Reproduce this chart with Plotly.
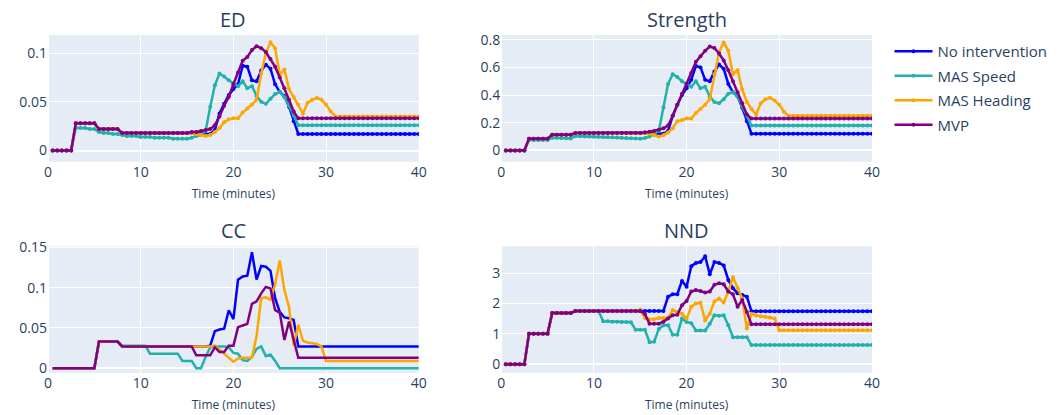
import plotly.graph_objects as go
from plotly.subplots import make_subplots

time_min = [
    0.5, 1.0, 1.5, 2.0, 2.5, 3.0, 3.5, 4.0, 4.5, 5.0,
    5.5, 6.0, 6.5, 7.0, 7.5, 8.0, 8.5, 9.0, 9.5, 10.0,
    10.5, 11.0, 11.5, 12.0, 12.5, 13.0, 13.5, 14.0, 14.5, 15.0,
    15.5, 16.0, 16.5, 17.0, 17.5, 18.0, 18.5, 19.0, 19.5, 20.0,
    20.5, 21.0, 21.5, 22.0, 22.5, 23.0, 23.5, 24.0, 24.5, 25.0,
    25.5, 26.0, 26.5, 27.0, 27.5, 28.0, 28.5, 29.0, 29.5, 30.0,
    30.5, 31.0, 31.5, 32.0, 32.5, 33.0, 33.5, 34.0, 34.5, 35.0,
    35.5, 36.0, 36.5, 37.0, 37.5, 38.0, 38.5, 39.0, 39.5, 40.0,
]

series_names = ["No intervention", "MAS Speed", "MAS Heading", "MVP"]
series_colors = ["blue", "lightseagreen", "orange", "purple"]
panel_titles = ["ED", "Strength", "CC", "NND"]

# ---------------- ED ----------------
ed_none = [
    0, 0, 0, 0, 0, 0.028, 0.028, 0.028, 0.028, 0.028,
    0.022, 0.022, 0.022, 0.022, 0.022, 0.018, 0.018, 0.018, 0.018, 0.018,
    0.018, 0.018, 0.018, 0.018, 0.018, 0.018, 0.018, 0.018, 0.018, 0.018,
    0.018, 0.018, 0.017, 0.017, 0.017, 0.021, 0.038, 0.048, 0.057, 0.063,
    0.068, 0.087, 0.086, 0.072, 0.071, 0.082, 0.088, 0.084, 0.068, 0.060,
    0.056, 0.045, 0.030, 0.017, 0.017, 0.017, 0.017, 0.017, 0.017, 0.017,
    0.017, 0.017, 0.017, 0.017, 0.017, 0.017, 0.017, 0.017, 0.017, 0.017,
    0.017, 0.017, 0.017, 0.017, 0.017, 0.017, 0.017, 0.017, 0.017, 0.017,
]
ed_speed = [
    0, 0, 0, 0, 0, 0.023, 0.023, 0.023, 0.022, 0.022,
    0.019, 0.018, 0.018, 0.017, 0.017, 0.016, 0.015, 0.015, 0.015, 0.014,
    0.014, 0.014, 0.013, 0.013, 0.013, 0.013, 0.012, 0.012, 0.012, 0.012,
    0.013, 0.015, 0.016, 0.020, 0.045, 0.067, 0.079, 0.076, 0.072, 0.069,
    0.066, 0.071, 0.064, 0.066, 0.056, 0.050, 0.048, 0.053, 0.058, 0.060,
    0.055, 0.046, 0.036, 0.026, 0.026, 0.026, 0.026, 0.026, 0.026, 0.026,
    0.026, 0.026, 0.026, 0.026, 0.026, 0.026, 0.026, 0.026, 0.026, 0.026,
    0.026, 0.026, 0.026, 0.026, 0.026, 0.026, 0.026, 0.026, 0.026, 0.026,
]
ed_heading = [
    0, 0, 0, 0, 0, 0.028, 0.028, 0.028, 0.028, 0.028,
    0.022, 0.022, 0.022, 0.022, 0.022, 0.018, 0.018, 0.018, 0.018, 0.018,
    0.018, 0.018, 0.018, 0.018, 0.018, 0.018, 0.018, 0.018, 0.018, 0.018,
    0.018, 0.017, 0.016, 0.015, 0.016, 0.019, 0.023, 0.029, 0.032, 0.033,
    0.033, 0.039, 0.043, 0.047, 0.052, 0.079, 0.100, 0.111, 0.105, 0.078,
    0.083, 0.063, 0.055, 0.047, 0.038, 0.049, 0.052, 0.054, 0.052, 0.047,
    0.040, 0.035, 0.035, 0.035, 0.035, 0.035, 0.035, 0.035, 0.035, 0.035,
    0.035, 0.035, 0.035, 0.035, 0.035, 0.035, 0.035, 0.035, 0.035, 0.035,
]
ed_mvp = [
    0, 0, 0, 0, 0, 0.028, 0.028, 0.028, 0.028, 0.028,
    0.022, 0.022, 0.022, 0.022, 0.022, 0.018, 0.018, 0.018, 0.018, 0.018,
    0.018, 0.018, 0.018, 0.018, 0.018, 0.018, 0.018, 0.018, 0.018, 0.018,
    0.019, 0.019, 0.020, 0.021, 0.022, 0.026, 0.035, 0.046, 0.055, 0.068,
    0.080, 0.092, 0.096, 0.103, 0.107, 0.105, 0.101, 0.094, 0.086, 0.075,
    0.064, 0.052, 0.040, 0.033, 0.033, 0.033, 0.033, 0.033, 0.033, 0.033,
    0.033, 0.033, 0.033, 0.033, 0.033, 0.033, 0.033, 0.033, 0.033, 0.033,
    0.033, 0.033, 0.033, 0.033, 0.033, 0.033, 0.033, 0.033, 0.033, 0.033,
]

# ---------------- Strength ----------------
str_none = [
    0, 0, 0, 0, 0, 0.085, 0.085, 0.085, 0.085, 0.085,
    0.113, 0.113, 0.113, 0.113, 0.113, 0.125, 0.125, 0.125, 0.125, 0.125,
    0.125, 0.125, 0.125, 0.125, 0.125, 0.125, 0.125, 0.125, 0.125, 0.125,
    0.13, 0.13, 0.125, 0.12, 0.12, 0.14, 0.25, 0.33, 0.40, 0.45,
    0.51, 0.61, 0.60, 0.51, 0.50, 0.57, 0.62, 0.59, 0.48, 0.42,
    0.39, 0.31, 0.21, 0.12, 0.12, 0.12, 0.12, 0.12, 0.12, 0.12,
    0.12, 0.12, 0.12, 0.12, 0.12, 0.12, 0.12, 0.12, 0.12, 0.12,
    0.12, 0.12, 0.12, 0.12, 0.12, 0.12, 0.12, 0.12, 0.12, 0.12,
]
str_speed = [
    0, 0, 0, 0, 0, 0.075, 0.075, 0.075, 0.075, 0.075,
    0.092, 0.092, 0.090, 0.088, 0.086, 0.103, 0.102, 0.101, 0.100, 0.099,
    0.098, 0.097, 0.096, 0.095, 0.094, 0.092, 0.090, 0.088, 0.086, 0.085,
    0.09, 0.10, 0.12, 0.14, 0.31, 0.48, 0.55, 0.53, 0.50, 0.48,
    0.46, 0.50, 0.45, 0.46, 0.39, 0.35, 0.34, 0.37, 0.41, 0.42,
    0.39, 0.32, 0.25, 0.18, 0.18, 0.18, 0.18, 0.18, 0.18, 0.18,
    0.18, 0.18, 0.18, 0.18, 0.18, 0.18, 0.18, 0.18, 0.18, 0.18,
    0.18, 0.18, 0.18, 0.18, 0.18, 0.18, 0.18, 0.18, 0.18, 0.18,
]
str_heading = [
    0, 0, 0, 0, 0, 0.085, 0.085, 0.085, 0.085, 0.085,
    0.113, 0.113, 0.113, 0.113, 0.113, 0.125, 0.125, 0.125, 0.125, 0.125,
    0.125, 0.125, 0.125, 0.125, 0.125, 0.125, 0.125, 0.125, 0.125, 0.125,
    0.125, 0.12, 0.11, 0.10, 0.11, 0.13, 0.16, 0.21, 0.22, 0.23,
    0.23, 0.27, 0.30, 0.33, 0.37, 0.55, 0.71, 0.78, 0.72, 0.55,
    0.58, 0.44, 0.35, 0.30, 0.26, 0.34, 0.37, 0.38, 0.36, 0.33,
    0.28, 0.25, 0.25, 0.25, 0.25, 0.25, 0.25, 0.25, 0.25, 0.25,
    0.25, 0.25, 0.25, 0.25, 0.25, 0.25, 0.25, 0.25, 0.25, 0.25,
]
str_mvp = [
    0, 0, 0, 0, 0, 0.085, 0.085, 0.085, 0.085, 0.085,
    0.113, 0.113, 0.113, 0.113, 0.113, 0.125, 0.125, 0.125, 0.125, 0.125,
    0.125, 0.125, 0.125, 0.125, 0.125, 0.125, 0.125, 0.125, 0.125, 0.125,
    0.13, 0.135, 0.14, 0.15, 0.16, 0.18, 0.25, 0.33, 0.41, 0.48,
    0.56, 0.64, 0.68, 0.72, 0.75, 0.74, 0.70, 0.65, 0.58, 0.50,
    0.42, 0.34, 0.26, 0.23, 0.23, 0.23, 0.23, 0.23, 0.23, 0.23,
    0.23, 0.23, 0.23, 0.23, 0.23, 0.23, 0.23, 0.23, 0.23, 0.23,
    0.23, 0.23, 0.23, 0.23, 0.23, 0.23, 0.23, 0.23, 0.23, 0.23,
]

# ---------------- CC ----------------
cc_none = [
    0, 0, 0, 0, 0, 0, 0, 0, 0, 0,
    0.033, 0.033, 0.033, 0.033, 0.033, 0.027, 0.027, 0.027, 0.027, 0.027,
    0.027, 0.027, 0.027, 0.027, 0.027, 0.027, 0.027, 0.027, 0.027, 0.027,
    0.027, 0.027, 0.027, 0.027, 0.028, 0.046, 0.048, 0.049, 0.072, 0.061,
    0.110, 0.114, 0.115, 0.144, 0.110, 0.127, 0.126, 0.121, 0.087, 0.070,
    0.063, 0.062, 0.060, 0.027, 0.027, 0.027, 0.027, 0.027, 0.027, 0.027,
    0.027, 0.027, 0.027, 0.027, 0.027, 0.027, 0.027, 0.027, 0.027, 0.027,
    0.027, 0.027, 0.027, 0.027, 0.027, 0.027, 0.027, 0.027, 0.027, 0.027,
]
cc_speed = [
    0, 0, 0, 0, 0, 0, 0, 0, 0, 0,
    0.033, 0.033, 0.033, 0.033, 0.033, 0.028, 0.028, 0.028, 0.028, 0.028,
    0.028, 0.018, 0.018, 0.018, 0.018, 0.018, 0.018, 0.018, 0.009, 0.009,
    0.009, 0, 0, 0.014, 0.026, 0.027, 0.027, 0.027, 0.026, 0.019,
    0.018, 0.010, 0.009, 0.014, 0.024, 0.027, 0.015, 0.017, 0.009, 0,
    0, 0, 0, 0, 0, 0, 0, 0, 0, 0,
    0, 0, 0, 0, 0, 0, 0, 0, 0, 0,
    0, 0, 0, 0, 0, 0, 0, 0, 0, 0,
]
cc_heading = [
    0, 0, 0, 0, 0, 0, 0, 0, 0, 0,
    0.033, 0.033, 0.033, 0.033, 0.033, 0.027, 0.027, 0.027, 0.027, 0.027,
    0.027, 0.027, 0.027, 0.027, 0.027, 0.027, 0.027, 0.027, 0.027, 0.027,
    0.027, 0.027, 0.027, 0.027, 0.027, 0.028, 0.023, 0.018, 0.013, 0.008,
    0.012, 0.013, 0.013, 0.013, 0.040, 0.087, 0.088, 0.085, 0.104, 0.134,
    0.097, 0.076, 0.028, 0.054, 0.034, 0.032, 0.031, 0.030, 0.027, 0.009,
    0.009, 0.009, 0.009, 0.009, 0.009, 0.009, 0.009, 0.009, 0.009, 0.009,
    0.009, 0.009, 0.009, 0.009, 0.009, 0.009, 0.009, 0.009, 0.009, 0.009,
]
cc_mvp = [
    0, 0, 0, 0, 0, 0, 0, 0, 0, 0,
    0.033, 0.033, 0.033, 0.033, 0.033, 0.027, 0.027, 0.027, 0.027, 0.027,
    0.027, 0.027, 0.027, 0.027, 0.027, 0.027, 0.027, 0.027, 0.027, 0.027,
    0.027, 0.016, 0.016, 0.016, 0.016, 0.026, 0.020, 0.020, 0.028, 0.028,
    0.051, 0.053, 0.055, 0.080, 0.083, 0.093, 0.101, 0.099, 0.072, 0.069,
    0.035, 0.058, 0.034, 0.013, 0.013, 0.013, 0.013, 0.013, 0.013, 0.013,
    0.013, 0.013, 0.013, 0.013, 0.013, 0.013, 0.013, 0.013, 0.013, 0.013,
    0.013, 0.013, 0.013, 0.013, 0.013, 0.013, 0.013, 0.013, 0.013, 0.013,
]

# ---------------- NND ----------------
nnd_none = [
    0, 0, 0, 0, 0, 1.0, 1.0, 1.0, 1.0, 1.0,
    1.68, 1.68, 1.68, 1.68, 1.68, 1.75, 1.75, 1.75, 1.75, 1.75,
    1.75, 1.75, 1.75, 1.75, 1.75, 1.75, 1.75, 1.75, 1.75, 1.75,
    1.75, 1.75, 1.75, 1.75, 1.75, 2.22, 2.30, 2.30, 2.74, 2.55,
    3.22, 3.33, 3.36, 3.55, 2.96, 3.36, 3.33, 3.25, 2.77, 2.50,
    2.33, 2.28, 2.22, 1.74, 1.74, 1.74, 1.74, 1.74, 1.74, 1.74,
    1.74, 1.74, 1.74, 1.74, 1.74, 1.74, 1.74, 1.74, 1.74, 1.74,
    1.74, 1.74, 1.74, 1.74, 1.74, 1.74, 1.74, 1.74, 1.74, 1.74,
]
nnd_speed = [
    0, 0, 0, 0, 0, 1.0, 1.0, 1.0, 1.0, 1.0,
    1.68, 1.68, 1.68, 1.68, 1.68, 1.75, 1.75, 1.75, 1.75, 1.75,
    1.75, 1.41, 1.41, 1.40, 1.40, 1.39, 1.39, 1.38, 1.13, 1.13,
    1.13, 0.72, 0.74, 1.16, 1.28, 1.28, 0.97, 0.97, 1.50, 1.39,
    1.35, 1.11, 1.11, 1.11, 1.33, 1.61, 1.59, 1.61, 1.28, 0.89,
    0.89, 0.89, 0.89, 0.63, 0.63, 0.63, 0.63, 0.63, 0.63, 0.63,
    0.63, 0.63, 0.63, 0.63, 0.63, 0.63, 0.63, 0.63, 0.63, 0.63,
    0.63, 0.63, 0.63, 0.63, 0.63, 0.63, 0.63, 0.63, 0.63, 0.63,
]
nnd_heading = [
    0, 0, 0, 0, 0, 1.0, 1.0, 1.0, 1.0, 1.0,
    1.68, 1.68, 1.68, 1.68, 1.68, 1.75, 1.75, 1.75, 1.75, 1.75,
    1.75, 1.75, 1.75, 1.75, 1.75, 1.75, 1.75, 1.75, 1.75, 1.80,
    1.52, 1.48, 1.48, 1.52, 1.52, 1.52, 1.78, 1.72, 1.66, 1.50,
    1.89, 2.00, 2.02, 1.44, 1.66, 2.06, 2.16, 2.03, 2.39, 2.86,
    2.50, 2.16, 1.17, 1.66, 1.60, 1.58, 1.56, 1.54, 1.50, 1.12,
    1.12, 1.12, 1.12, 1.12, 1.12, 1.12, 1.12, 1.12, 1.12, 1.12,
    1.12, 1.12, 1.12, 1.12, 1.12, 1.12, 1.12, 1.12, 1.12, 1.12,
]
nnd_mvp = [
    0, 0, 0, 0, 0, 1.0, 1.0, 1.0, 1.0, 1.0,
    1.68, 1.68, 1.68, 1.68, 1.68, 1.75, 1.75, 1.75, 1.75, 1.75,
    1.75, 1.75, 1.75, 1.75, 1.75, 1.75, 1.75, 1.75, 1.75, 1.75,
    1.65, 1.33, 1.33, 1.33, 1.40, 1.50, 1.61, 1.63, 1.94, 2.08,
    2.39, 2.44, 2.41, 2.36, 2.39, 2.61, 2.66, 2.63, 2.39, 2.30,
    1.89, 2.11, 1.72, 1.31, 1.31, 1.31, 1.31, 1.31, 1.31, 1.31,
    1.31, 1.31, 1.31, 1.31, 1.31, 1.31, 1.31, 1.31, 1.31, 1.31,
    1.31, 1.31, 1.31, 1.31, 1.31, 1.31, 1.31, 1.31, 1.31, 1.31,
]

panels = [
    (1, 1, [ed_none, ed_speed, ed_heading, ed_mvp], "lines+markers", [-0.0115, 0.1185], [0, 0.05, 0.1], ["0", "0.05", "0.1"]),
    (1, 2, [str_none, str_speed, str_heading, str_mvp], "lines+markers", [-0.082, 0.834], [0, 0.2, 0.4, 0.6, 0.8], ["0", "0.2", "0.4", "0.6", "0.8"]),
    (2, 1, [cc_none, cc_speed, cc_heading, cc_mvp], "lines", [-0.006, 0.1515], [0, 0.05, 0.1, 0.15], ["0", "0.05", "0.1", "0.15"]),
    (2, 2, [nnd_none, nnd_speed, nnd_heading, nnd_mvp], "lines+markers", [-0.29, 3.88], [0, 1, 2, 3], ["0", "1", "2", "3"]),
]

fig = make_subplots(rows=2, cols=2, subplot_titles=panel_titles,
                    horizontal_spacing=0.1, vertical_spacing=0.25)

for k, (r, c, data, mode, yr, tv, tt) in enumerate(panels):
    for name, color, vals in zip(series_names, series_colors, data):
        fig.add_trace(go.Scatter(
            x=time_min, y=vals, mode=mode, name=name,
            legendgroup=name, showlegend=(k == 0),
            line=dict(color=color, width=2.5),
            marker=dict(color=color, size=4),
        ), row=r, col=c)
    fig.update_yaxes(range=yr, tickvals=tv, ticktext=tt, row=r, col=c)

fig.update_xaxes(range=[0, 40], tickvals=[0, 10, 20, 30, 40],
                 title_text="Time (minutes)", title_font=dict(size=12),
                 title_standoff=9,
                 tickfont=dict(size=14), automargin=False)
fig.update_yaxes(tickfont=dict(size=14), automargin=False)
fig.update_annotations(font_size=20)

fig.update_layout(
    width=1063, height=415,
    margin=dict(l=48, r=190, t=35, b=42),
    font=dict(family="Open Sans", size=14, color="#2a3f5f"),
    legend=dict(font=dict(size=15), tracegroupgap=2, itemwidth=38),
)

fig.write_html("out.html")
